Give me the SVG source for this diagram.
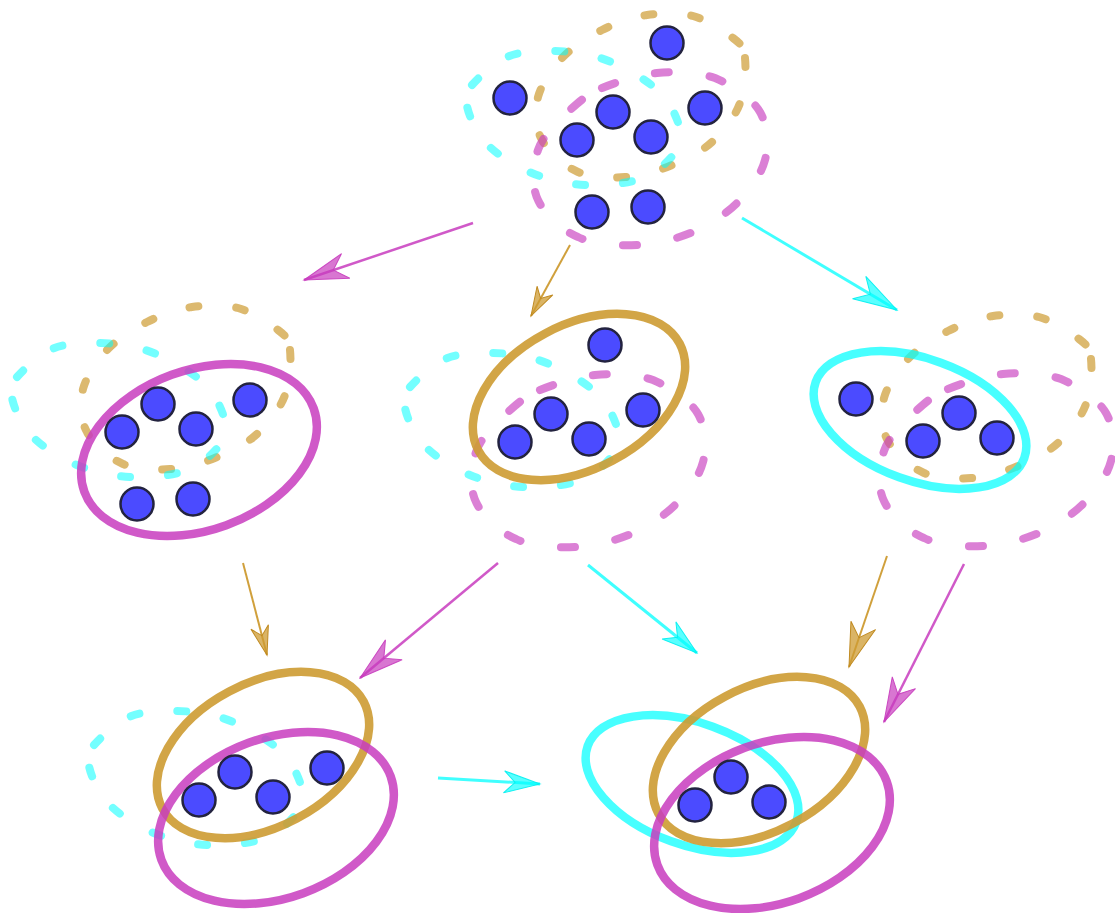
<svg xmlns="http://www.w3.org/2000/svg" xmlns:xlink="http://www.w3.org/1999/xlink" width="1115" height="913" viewBox="0 0 1115 913">
  <style>
    .dash { fill: none; stroke-width: 8; stroke-linecap: round; stroke-linejoin: round; }
    .dash-tan { stroke: #cd9b32; stroke-opacity: 0.7; stroke-dasharray: 9 38; }
    .dash-cyan { stroke: #00ffff; stroke-opacity: 0.55; stroke-dasharray: 9 38; }
    .dash-mag { stroke: #c83cbe; stroke-opacity: 0.65; stroke-dasharray: 14 41; }
    .ring { fill: none; stroke-width: 8.5; }
    .ring-tan { stroke: #cd9b32; stroke-opacity: 0.9; }
    .ring-cyan { stroke: #00ffff; stroke-opacity: 0.72; }
    .ring-mag { stroke: #c83cbe; stroke-opacity: 0.85; }
    .node { fill: #4b4bff; stroke: #23233f; stroke-width: 2.5; }
    .edge { fill: none; }
    .edge-mag { stroke: #c83cbe; stroke-opacity: 0.85; stroke-width: 2.5; }
    .edge-tan { stroke: #cd9b32; stroke-opacity: 0.95; stroke-width: 2; }
    .edge-cyan { stroke: #00ffff; stroke-opacity: 0.75; stroke-width: 3; }
  </style>
  <defs>
    <!-- loose (dashed) outlines, in the frame of the top cluster -->
    <path id="loopTan" d="M745,58 C746,69 746,89 740,103 C735,117 723,132 712,142 C701,152 687,159 672,165 C658,171 641,176 625,177 C609,178 592,178 578,172 C564,166 549,153 542,140 C535,128 535,111 538,97 C542,83 552,68 563,57 C574,46 588,37 602,30 C616,23 632,17 647,15 C662,13 679,12 693,16 C707,20 724,31 733,38 C742,45 744,47 745,58 Z"/>
    <path id="loopCyan" d="M472,85 C479,77 494,63 507,57 C521,51 538,51 553,51 C568,51 583,53 597,57 C611,61 625,68 637,75 C649,83 661,91 668,102 C675,113 683,130 680,142 C677,154 663,167 651,174 C639,181 621,184 606,185 C591,186 576,185 561,182 C547,179 532,174 519,167 C506,160 494,152 485,142 C476,132 469,116 467,106 C465,97 465,93 472,85 Z"/>
    <path id="loopMag" d="M602,88 C617,82 638,75 657,73 C676,71 698,72 715,78 C732,85 752,98 760,112 C768,126 769,145 765,160 C761,175 750,190 738,202 C726,214 710,225 693,232 C676,239 657,244 638,245 C619,246 595,245 578,237 C561,230 545,215 538,200 C531,186 533,165 538,150 C543,135 559,120 570,110 C581,100 588,94 602,88 Z"/>
    <!-- tight (solid) outlines, same frame -->
    <ellipse id="ringTan" cx="641" cy="95" rx="114" ry="72" transform="rotate(-28 641 95)"/>
    <ellipse id="ringCyan" cx="574" cy="119" rx="111" ry="61" transform="rotate(20 574 119)"/>
    <ellipse id="ringMag" cx="654" cy="158" rx="122" ry="80" transform="rotate(-20 654 158)"/>

    <marker id="headMagL" markerUnits="userSpaceOnUse" viewBox="-46 -15 48 30" markerWidth="48" markerHeight="30" refX="0" refY="0" orient="auto">
      <path d="M0,0 L-44,-13 L-31,0 L-44,13 Z" fill="#c83cbe" fill-opacity="0.7" stroke="#c83cbe" stroke-opacity="0.9" stroke-width="1"/>
    </marker>
    <marker id="headTanL" markerUnits="userSpaceOnUse" viewBox="-46 -15 48 30" markerWidth="48" markerHeight="30" refX="0" refY="0" orient="auto">
      <path d="M0,0 L-44,-13 L-31,0 L-44,13 Z" fill="#cd9b32" fill-opacity="0.75" stroke="#c08a20" stroke-width="1"/>
    </marker>
    <marker id="headTanS" markerUnits="userSpaceOnUse" viewBox="-32 -11 34 22" markerWidth="34" markerHeight="22" refX="0" refY="0" orient="auto">
      <path d="M0,0 L-29,-9 L-20,0 L-29,9 Z" fill="#cd9b32" fill-opacity="0.75" stroke="#c08a20" stroke-width="1"/>
    </marker>
    <marker id="headCyanL" markerUnits="userSpaceOnUse" viewBox="-46 -15 48 30" markerWidth="48" markerHeight="30" refX="0" refY="0" orient="auto">
      <path d="M0,0 L-44,-13 L-31,0 L-44,13 Z" fill="#00ffff" fill-opacity="0.65" stroke="#00f0f0" stroke-opacity="0.9" stroke-width="1"/>
    </marker>
    <marker id="headCyanM" markerUnits="userSpaceOnUse" viewBox="-39 -13 41 26" markerWidth="41" markerHeight="26" refX="0" refY="0" orient="auto">
      <path d="M0,0 L-36,-11 L-25,0 L-36,11 Z" fill="#00ffff" fill-opacity="0.65" stroke="#00f0f0" stroke-opacity="0.9" stroke-width="1"/>
    </marker>
  </defs>

  <rect x="0" y="0" width="1115" height="913" fill="#ffffff"/>

  <!-- connectors -->
  <g id="connectors" class="edge">
    <line class="edge-mag" x1="473" y1="223" x2="304" y2="280" marker-end="url(#headMagL)"/>
    <line class="edge-tan" x1="570" y1="245" x2="531" y2="316" marker-end="url(#headTanS)"/>
    <line class="edge-cyan" x1="742" y1="218" x2="897" y2="310" marker-end="url(#headCyanL)"/>
    <line class="edge-tan" x1="243" y1="563" x2="267" y2="655" marker-end="url(#headTanS)"/>
    <line class="edge-mag" x1="498" y1="563" x2="360" y2="678" marker-end="url(#headMagL)"/>
    <line class="edge-cyan" x1="588" y1="565" x2="697" y2="653" marker-end="url(#headCyanM)"/>
    <line class="edge-tan" x1="887" y1="556" x2="849" y2="667" marker-end="url(#headTanL)"/>
    <line class="edge-mag" x1="964" y1="564" x2="884" y2="722" marker-end="url(#headMagL)"/>
    <line class="edge-cyan" x1="438" y1="778" x2="540" y2="784" marker-end="url(#headCyanM)"/>
  </g>

  <!-- top cluster: three loose groupings -->
  <g id="state-top">
    <use href="#loopTan" class="dash dash-tan"/>
    <use href="#loopCyan" class="dash dash-cyan"/>
    <use href="#loopMag" class="dash dash-mag"/>
    <circle class="node" cx="667" cy="43" r="16.5"/>
    <circle class="node" cx="510" cy="98" r="16.5"/>
    <circle class="node" cx="613" cy="112" r="16.5"/>
    <circle class="node" cx="577" cy="140" r="16.5"/>
    <circle class="node" cx="651" cy="137" r="16.5"/>
    <circle class="node" cx="705" cy="108" r="16.5"/>
    <circle class="node" cx="592" cy="212" r="16.5"/>
    <circle class="node" cx="648" cy="207" r="16.5"/>
  </g>

  <!-- middle row -->
  <g id="state-mag" transform="translate(-455 292)">
    <use href="#loopTan" class="dash dash-tan"/>
    <use href="#loopCyan" class="dash dash-cyan"/>
    <use href="#ringMag" class="ring ring-mag"/>
    <circle class="node" cx="613" cy="112" r="16.5"/>
    <circle class="node" cx="577" cy="140" r="16.5"/>
    <circle class="node" cx="651" cy="137" r="16.5"/>
    <circle class="node" cx="705" cy="108" r="16.5"/>
    <circle class="node" cx="592" cy="212" r="16.5"/>
    <circle class="node" cx="648" cy="207" r="16.5"/>
  </g>

  <g id="state-tan" transform="translate(-62 302)">
    <use href="#loopCyan" class="dash dash-cyan"/>
    <use href="#loopMag" class="dash dash-mag"/>
    <use href="#ringTan" class="ring ring-tan"/>
    <circle class="node" cx="667" cy="43" r="16.5"/>
    <circle class="node" cx="613" cy="112" r="16.5"/>
    <circle class="node" cx="577" cy="140" r="16.5"/>
    <circle class="node" cx="651" cy="137" r="16.5"/>
    <circle class="node" cx="705" cy="108" r="16.5"/>
  </g>

  <g id="state-cyan" transform="translate(346 301)">
    <use href="#loopTan" class="dash dash-tan"/>
    <use href="#loopMag" class="dash dash-mag"/>
    <use href="#ringCyan" class="ring ring-cyan"/>
    <circle class="node" cx="510" cy="98" r="16.5"/>
    <circle class="node" cx="613" cy="112" r="16.5"/>
    <circle class="node" cx="577" cy="140" r="16.5"/>
    <circle class="node" cx="651" cy="137" r="16.5"/>
  </g>

  <!-- bottom row -->
  <g id="state-tan-mag" transform="translate(-378 660)">
    <use href="#loopCyan" class="dash dash-cyan"/>
    <use href="#ringTan" class="ring ring-tan"/>
    <use href="#ringMag" class="ring ring-mag"/>
    <circle class="node" cx="613" cy="112" r="16.5"/>
    <circle class="node" cx="577" cy="140" r="16.5"/>
    <circle class="node" cx="651" cy="137" r="16.5"/>
    <circle class="node" cx="705" cy="108" r="16.5"/>
  </g>

  <g id="state-all" transform="translate(118 665)">
    <use href="#ringCyan" class="ring ring-cyan"/>
    <use href="#ringTan" class="ring ring-tan"/>
    <use href="#ringMag" class="ring ring-mag"/>
    <circle class="node" cx="613" cy="112" r="16.5"/>
    <circle class="node" cx="577" cy="140" r="16.5"/>
    <circle class="node" cx="651" cy="137" r="16.5"/>
  </g>
</svg>
